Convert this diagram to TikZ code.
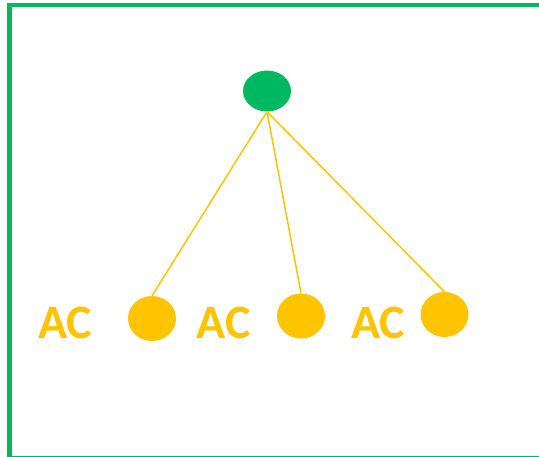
\documentclass[tikz,border=0pt]{standalone}
\usepackage{fontspec}
\setmainfont{Carlito}
\usetikzlibrary{
  shapes.geometric
}
\usepackage{xcolor}
\definecolor{boxGreen}{RGB}{0,184,96}
\definecolor{acGold}{RGB}{255,196,0}
\tikzset{
  topDot/.style={
    ellipse,
    fill=boxGreen,
    inner sep=0pt,
    minimum width=48pt,
    minimum height=41pt
  }
}
\tikzset{
  leafDot/.style={
    ellipse,
    fill=acGold,
    inner sep=0pt,
    minimum width=48pt,
    minimum height=45pt
  }
}
\tikzset{
  acLabel/.style={
    text=acGold,
    inner sep=0pt,
    font=\fontsize{48}{48}\selectfont\bfseries
  }
}

\begin{document}
\begin{tikzpicture}[x=1pt, y=-1pt]
    \useasboundingbox (0,0) rectangle (539,457);
    \clip (0,0) rectangle (539,457);
    \draw[boxGreen, line width=4.5pt] (9.5,5) rectangle (570,458.5);
    \node[topDot] (root) at (267,91) {};
    \foreach \name/\x/\y/\lx/\ly in {one/152/318.5/65/323, two/301/316/223.5/323, three/444.5/314.5/378/322.5}{
      \node[leafDot] (\name) at (\x,\y) {};
      \node[acLabel] (ac\name) at (\lx,\ly) {AC};
      \draw[acGold, line width=1.5pt] (root.south) -- (\name.north);
    }
  \end{tikzpicture}
\end{document}
